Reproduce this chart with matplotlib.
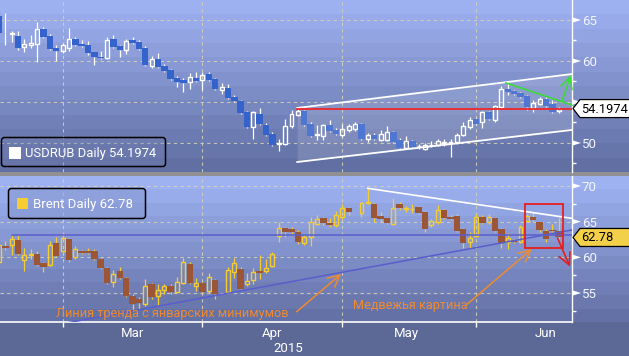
import numpy as np
import matplotlib
matplotlib.use("Agg")
import matplotlib.pyplot as plt
from matplotlib.patches import Rectangle, FancyBboxPatch, Polygon

plt.rcParams['font.family'] = ['Roboto', 'DejaVu Sans']

nan = np.nan
# ---------------- data (trading-day index, 0 = 17 Feb 2015) ----------------
day_index = list(range(-1, 88))

usd_open = [65.49, 63.45, 63.35, 63.05, 61.67, 61.95, 62.07, 63.90, 63.05, 61.59,
            61.22, 61.59, 62.68, 62.10, 61.95, 61.10, 60.49, 60.37, 62.68, 61.83,
            61.34, 62.56, 62.32, 61.59, 59.39, 60.24, 59.39, 58.90, 57.93, 57.68,
            57.44, 57.93, 57.68, 58.41, 57.80, 56.46, 56.70, 55.60, 55.12, 53.78,
            51.95, 53.54, 52.20, 51.10, 49.90, 49.88, 52.07, 53.41, 53.90, 52.32,
            50.95, 50.85, 52.20, 51.60, 50.98, 51.60, 51.70, 52.30, 50.49, 50.98,
            50.37, 50.37, 51.34, 50.37, 49.39, 50.24, 49.60, 49.27, 49.70, 49.76,
            50.05, 50.05, 50.12, 50.98, 51.95, 52.93, 52.56, 53.78, 52.80, 54.40,
            56.60, 56.34, 56.10, 55.73, 54.27, 54.76, 55.37, 54.76, 53.90]
usd_high = [65.80, 65.80, 63.60, 63.66, 62.68, 63.17, 64.80, 64.10, 63.30, 61.95,
            62.20, 64.00, 62.90, 62.50, 62.40, 61.15, 61.20, 62.90, 63.20, 61.90,
            62.68, 62.90, 62.50, 61.80, 60.60, 61.00, 59.60, 59.00, 58.20, 57.90,
            58.50, 58.60, 58.66, 58.66, 57.90, 57.30, 57.20, 55.80, 55.30, 53.90,
            53.90, 54.30, 52.40, 51.30, 50.50, 52.93, 54.00, 54.30, 54.00, 52.50,
            52.20, 52.32, 52.80, 51.80, 52.30, 52.30, 52.50, 52.40, 51.20, 51.20,
            51.60, 52.07, 51.50, 50.60, 50.80, 50.40, 49.90, 50.00, 50.30, 50.50,
            50.50, 50.50, 51.20, 52.60, 53.20, 53.10, 53.90, 53.90, 54.60, 56.90,
            57.30, 56.50, 56.20, 55.80, 55.30, 55.60, 55.60, 55.20, 54.40]
usd_low = [63.20, 61.95, 62.35, 61.34, 61.13, 61.54, 59.90, 62.80, 61.30, 60.00,
           60.98, 61.22, 61.80, 61.70, 60.70, 59.50, 60.30, 60.30, 61.60, 60.50,
           60.85, 62.10, 61.30, 59.40, 59.20, 59.10, 58.70, 57.70, 56.83, 56.20,
           56.60, 57.40, 56.50, 57.50, 56.50, 56.00, 55.40, 55.00, 53.50, 51.80,
           50.50, 52.20, 50.90, 49.60, 49.00, 49.80, 51.80, 53.30, 52.10, 50.70,
           50.40, 50.40, 51.30, 51.00, 50.70, 51.40, 51.50, 50.40, 50.10, 50.40,
           50.20, 50.30, 50.00, 49.30, 49.30, 49.40, 49.30, 49.10, 49.50, 49.60,
           49.60, 48.30, 49.90, 50.80, 51.70, 52.20, 51.80, 52.80, 52.60, 54.30,
           55.80, 55.90, 55.50, 54.00, 53.80, 54.60, 54.40, 53.70, 53.60]
usd_close = [63.41, 63.38, 63.40, 61.60, 62.07, 62.23, 63.90, 62.93, 61.46, 61.22,
             61.95, 62.68, 61.95, 61.83, 60.98, 60.49, 60.37, 62.56, 61.70, 61.34,
             62.44, 62.20, 61.46, 59.50, 60.24, 59.27, 58.78, 57.80, 57.44, 57.32,
             58.05, 57.56, 58.30, 57.68, 56.59, 56.83, 55.49, 55.12, 53.66, 51.95,
             53.78, 52.32, 50.98, 49.76, 50.00, 52.07, 53.54, 53.90, 52.20, 50.85,
             51.05, 52.20, 51.46, 51.10, 51.70, 52.07, 52.30, 50.49, 50.98, 50.49,
             51.10, 51.34, 50.12, 49.39, 50.24, 49.51, 49.67, 49.76, 49.80, 50.24,
             50.12, 50.10, 50.98, 52.07, 52.80, 52.32, 53.78, 52.93, 54.50, 56.60,
             56.20, 55.98, 55.60, 54.39, 54.88, 55.37, 54.50, 53.78, 54.1974]

brent_open = [59.30, 61.60, 61.72, 62.40, 59.60, 60.30, 60.46, 59.20, 58.92, 62.00,
              60.90, 62.56, 60.04, 60.88, 60.85, 60.88, 59.76, 58.50, 56.54, 58.10,
              57.10, 54.60, 54.20, 53.46, 56.26, 54.58, 55.42, 55.98, 55.14, 56.40,
              59.06, 55.98, 56.40, 55.28, 56.82, nan, 55.14, 57.94, 58.36, 56.26,
              56.82, 58.08, 58.08, 58.78, 62.98, 64.10, 64.00, 63.54, 62.00, 62.84,
              64.66, 65.50, 64.80, 64.52, 65.64, 66.90, nan, 66.20, 67.60, 67.46,
              65.80, 65.50, 64.66, 67.46, 66.80, 66.70, 67.04, 66.34, 64.50, 64.90,
              66.60, 65.60, 65.80, 63.96, 62.14, 63.00, 65.60, 64.90, 65.50, 63.96,
              62.14, 62.30, 62.14, 65.10, 65.64, 64.90, 63.70, 63.82, 63.70]
brent_high = [62.00, 62.30, 63.10, 63.10, 61.30, 61.10, 60.90, 59.40, 62.30, 62.90,
              63.40, 62.70, 61.60, 61.00, 61.30, 61.20, 59.90, 58.60, 58.20, 58.60,
              57.30, 54.80, 54.40, 57.00, 56.40, 56.26, 56.30, 56.30, 57.20, 59.90,
              59.30, 57.10, 56.60, 57.80, 57.00, nan, 58.60, 59.90, 58.60, 57.80,
              58.50, 60.30, 59.80, 60.80, 64.90, 64.30, 64.20, 63.80, 63.30, 65.70,
              65.90, 65.70, 65.50, 66.50, 67.50, 67.10, nan, 67.80, 69.70, 67.60,
              66.40, 65.70, 68.30, 67.70, 67.20, 67.50, 67.20, 66.50, 65.40, 67.30,
              66.80, 65.90, 66.00, 64.10, 63.50, 66.10, 65.90, 66.10, 65.70, 64.10,
              63.40, 62.50, 64.50, 66.10, 66.30, 65.00, 63.90, 64.60, 65.50]
brent_low = [58.60, 61.00, 60.30, 60.30, 58.10, 59.80, 58.80, 57.90, 58.80, 60.00,
             60.70, 59.40, 59.80, 60.50, 60.40, 59.60, 58.30, 56.20, 55.80, 56.90,
             54.40, 52.60, 52.80, 53.20, 54.20, 53.30, 54.80, 54.90, 55.00, 56.20,
             56.20, 55.30, 55.00, 55.00, 54.20, nan, 55.00, 57.10, 55.40, 56.00,
             56.30, 57.00, 57.80, 58.60, 62.20, 62.80, 63.30, 61.90, 61.70, 61.60,
             64.50, 64.50, 64.30, 64.30, 65.40, 65.90, nan, 65.60, 67.40, 64.90,
             65.00, 64.60, 64.50, 66.60, 66.40, 66.20, 66.00, 63.60, 64.30, 64.70,
             65.30, 65.20, 63.50, 61.30, 61.30, 62.90, 64.60, 64.70, 63.50, 61.30,
             61.20, 62.00, 62.00, 64.90, 65.00, 63.60, 62.20, 63.50, 62.50]
brent_close = [61.70, 61.35, 62.56, 60.46, 60.30, 60.45, 58.92, 58.64, 61.72, 60.18,
               62.70, 59.60, 61.16, 60.60, 60.55, 59.76, 58.50, 56.40, 57.66, 57.10,
               54.60, 53.46, 53.60, 55.98, 54.44, 55.42, 55.98, 55.14, 56.54, 59.34,
               56.40, 56.40, 55.14, 57.24, 54.86, nan, 58.20, 59.20, 55.56, 56.68,
               57.94, 57.80, 58.50, 60.46, 64.10, 63.54, 63.50, 62.10, 62.84, 64.94,
               65.36, 64.80, 64.52, 65.90, 66.90, 66.34, nan, 67.60, 67.80, 65.50,
               65.36, 64.80, 66.90, 66.90, 66.85, 66.80, 66.20, 63.96, 65.10, 66.60,
               65.50, 65.40, 63.70, 62.00, 62.70, 65.60, 64.80, 65.60, 63.70, 62.00,
               62.70, 62.14, 64.24, 65.80, 65.20, 63.80, 62.56, 63.68, 62.78]

usd_name, usd_last = "USDRUB Daily", "54.1974"
brent_name, brent_last = "Brent Daily", "62.78"
usd_yticks = [50, 55, 60, 65]
usd_ytick_labels = ["50", "", "60", "65"]   # 55 is hidden behind the price tag
usd_minor = [47.5, 52.5, 57.5, 62.5]
brent_yticks = [55, 60, 65, 70]
brent_ytick_labels = ["55", "60", "65", "70"]
brent_minor = [52.5, 57.5, 62.5, 67.5]
month_labels = ["Mar", "Apr", "May", "Jun"]
month_start = [9, 31, 53, 74]          # first trading day of each month
month_days = [22, 22, 20, 22]
year_label = "2015"

# drawn annotations (index, value)
chan_x = [45.9, 89.1]
chan_upper = [54.27, 58.41]
chan_lower = [47.68, 51.59]
red_level = 54.2
green_x = [78.7, 89.1]
green_y = [57.32, 54.63]
green_arrow = [(87.5, 55.04), (88.9, 58.29)]
blue_level = 63.12
trend_x = [10.0, 89.1]
trend_y = [50.86, 63.83]
resist_x = [57.0, 89.1]
resist_y = [69.66, 65.46]
box_x = [81.7, 87.7]
box_y = [61.26, 67.42]
red_arrow = [(86.85, 62.66), (88.79, 58.68)]
orange_arrow1 = [(45.8, 52.38), (52.8, 57.66)]
orange_arrow2 = [(72.6, 53.42), (82.77, 61.16)]
note1 = ("Линия тренда с январских минимумов", 26.2, 52.2)
note2 = ("Медвежья картина", 63.6, 53.3)

# ---------------- figure ----------------
W, H = 629, 356
fig = plt.figure(figsize=(W / 100, H / 100), dpi=100)
PR = 572          # right edge of plot area (px)
T1, B1 = 0, 172   # top panel
T2, B2 = 176, 322 # bottom panel

bg = fig.add_axes([0, 0, 1, 1], zorder=-10)
bg.set_xlim(0, W); bg.set_ylim(H, 0); bg.axis('off')


def bands(y0, y1, c0, c1, n):
    c0 = np.array(c0) / 255; c1 = np.array(c1) / 255
    h = (y1 - y0) / n
    for i in range(n):
        t = i / (n - 1)
        bg.add_patch(Rectangle((0, y0 + i * h), W, h + 0.6, color=c0 + (c1 - c0) * t, lw=0))


bands(T1, B1, (157, 176, 240), (97, 111, 163), 12)
bg.add_patch(Rectangle((0, B1), W, T2 - B1, color=(0.56, 0.56, 0.58), lw=0))
bands(T2, B2, (158, 178, 242), (100, 113, 166), 11)
bg.add_patch(Rectangle((0, B2), W, H - B2, color=(92 / 255, 105 / 255, 150 / 255), lw=0))

ax1 = fig.add_axes([0, 1 - B1 / H, PR / W, (B1 - T1) / H])
ax2 = fig.add_axes([0, 1 - B2 / H, PR / W, (B2 - T2) / H])
XLIM = (-0.833, 89.1)
ax1.set_xlim(*XLIM); ax2.set_xlim(*XLIM)
ax1.set_ylim(46.46, 67.44)
ax2.set_ylim(50.94, 71.39)

grid_c = '#D6D2B6'
for ax, yt, ylab, ymin in ((ax1, usd_yticks, usd_ytick_labels, usd_minor),
                           (ax2, brent_yticks, brent_ytick_labels, brent_minor)):
    ax.set_facecolor('none')
    for s in ('left', 'top', 'bottom'):
        ax.spines[s].set_visible(False)
    ax.spines['right'].set_color('white')
    ax.spines['right'].set_linewidth(1.0)
    ax.yaxis.tick_right()
    ax.set_yticks(yt, ylab)
    ax.set_yticks(ymin, minor=True)
    ax.tick_params(axis='y', which='major', length=0, pad=7, labelsize=9.5,
                   labelcolor='#F2F5FF')
    ax.tick_params(axis='y', which='minor', length=3, width=1, color='white')
    for v in yt:
        ax.axhline(v, color=grid_c, lw=0.8, ls=(0, (3, 3)), alpha=0.85, zorder=1)
    for m in month_start:
        ax.axvline(m, color=grid_c, lw=0.8, ls=(0, (3, 3)), alpha=0.85, zorder=1)

ax1.set_xticks([])
ax2.spines['bottom'].set_visible(True)
ax2.spines['bottom'].set_color('white')
ax2.spines['bottom'].set_linewidth(1.2)
ax2.set_xticks(month_start)
ax2.set_xticklabels([])
ax2.tick_params(axis='x', which='major', length=3.5, width=1, color='white')
for lab, s, n in zip(month_labels, month_start, month_days):
    ax2.text(s + n / 2, -0.076, lab, transform=ax2.get_xaxis_transform(),
             ha='center', va='center', color='white', fontsize=9.5)
ax2.text(month_start[1] + month_days[1] / 2 + 0.1, -0.182, year_label,
         transform=ax2.get_xaxis_transform(), ha='left', va='center',
         color='white', fontsize=9.5)


def candles(ax, o, h, l, c, up_col, down_col, wick_col):
    x = np.array(day_index, float)
    o, h, l, c = (np.array(a, float) for a in (o, h, l, c))
    ok = ~np.isnan(o)
    x, o, h, l, c = x[ok], o[ok], h[ok], l[ok], c[ok]
    top = np.maximum(o, c); bot = np.minimum(o, c)
    ax.vlines(x, top, h, color=wick_col, lw=0.9, zorder=3)
    ax.vlines(x, l, bot, color=wick_col, lw=0.9, zorder=3)
    up = c >= o
    ax.bar(x[up], np.maximum(top[up] - bot[up], 0.03), bottom=bot[up], width=0.62,
           facecolor='none', edgecolor=up_col, lw=1.0, zorder=3)
    ax.bar(x[~up], top[~up] - bot[~up], bottom=bot[~up], width=1.02,
           color=down_col, lw=0, zorder=3)


candles(ax1, usd_open, usd_high, usd_low, usd_close, 'white', '#3563CC', 'white')
candles(ax2, brent_open, brent_high, brent_low, brent_close, '#F5CD32', '#9B5537', '#F5CD32')

# top panel annotations
ax1.fill_between(chan_x, chan_lower, chan_upper, color='white', alpha=0.13, lw=0, zorder=4)
ax1.plot(chan_x, chan_upper, color='white', lw=1.3, zorder=5)
ax1.plot(chan_x, chan_lower, color='white', lw=1.3, zorder=5)
ax1.plot(chan_x, [red_level, red_level], color='#F02828', lw=1.3, zorder=5)
ax1.plot(green_x, green_y, color='#3ADC3A', lw=1.2, zorder=6, clip_on=False)
ax1.annotate('', xy=green_arrow[1], xytext=green_arrow[0], zorder=6, annotation_clip=False,
             arrowprops=dict(arrowstyle='->,head_length=0.7,head_width=0.35', color='#3ADC3A',
                             lw=1.2, shrinkA=0, shrinkB=0, mutation_scale=12))

# bottom panel annotations
ax2.plot([day_index[2], XLIM[1]], [blue_level, blue_level], color='#5A5ECC', lw=1.1, zorder=4)
ax2.plot(trend_x, trend_y, color='#5A5ECC', lw=1.1, zorder=4)
ax2.plot(resist_x, resist_y, color='white', lw=1.2, zorder=5)
ax2.add_patch(Rectangle((box_x[0], box_y[0]), box_x[1] - box_x[0], box_y[1] - box_y[0],
                        fill=False, ec='#E81E1E', lw=1.3, zorder=6))
ax2.annotate('', xy=red_arrow[1], xytext=red_arrow[0], zorder=6, annotation_clip=False,
             arrowprops=dict(arrowstyle='->,head_length=0.7,head_width=0.35', color='#E81E1E',
                             lw=1.2, shrinkA=0, shrinkB=0, mutation_scale=12))
for a in (orange_arrow1, orange_arrow2):
    ax2.annotate('', xy=a[1], xytext=a[0], zorder=6,
                 arrowprops=dict(arrowstyle='->,head_length=0.7,head_width=0.35', color='#EE8A30',
                                 lw=1.1, shrinkA=0, shrinkB=0, mutation_scale=12))
for txt, xk, yv in (note1, note2):
    ax2.text(xk, yv, txt, color='#EE8A30', fontsize=9.1, ha='center', va='center', zorder=6)

# overlay in pixel coordinates
ov = fig.add_axes([0, 0, 1, 1], zorder=20)
ov.set_xlim(0, W); ov.set_ylim(H, 0); ov.axis('off'); ov.set_facecolor('none')


def ypx(ax, v):
    return H - ax.transData.transform((0, v))[1]


for ax, yt in ((ax1, usd_yticks), (ax2, brent_yticks)):
    for v in yt:
        y = ypx(ax, v)
        ov.add_patch(Polygon([(PR, y - 2.8), (PR, y + 2.8), (PR + 9, y)], closed=True,
                             fc='white', ec='none'))


def tag(ax, value, text, face):
    yc = ypx(ax, value)
    pts = [(PR + 1, yc), (PR + 8, yc - 9), (W + 2, yc - 9), (W + 2, yc + 9), (PR + 8, yc + 9)]
    ov.add_patch(Polygon(pts, closed=True, fc=face, ec='black', lw=0.9))
    ov.text(PR + 9.5, yc + 0.5, text, color='black', fontsize=9.3, ha='left', va='center')


tag(ax1, usd_close[-1], usd_last, 'white')
tag(ax2, brent_close[-1], brent_last, '#F3D04A')

# legend boxes
ov.add_patch(FancyBboxPatch((1.5, 137.5), 164, 29, boxstyle='round,pad=0,rounding_size=3',
                            fc=(0.45, 0.50, 0.70, 0.35), ec='black', lw=1.1))
ov.add_patch(Rectangle((9, 146.5), 12, 12, color='white', lw=0))
ov.text(25, 153, f"{usd_name} {usd_last}", color='white', fontsize=9.4, va='center', ha='left')

ov.add_patch(FancyBboxPatch((8.5, 188.5), 137, 30, boxstyle='round,pad=0,rounding_size=3',
                            fc=(0.50, 0.56, 0.78, 0.35), ec='black', lw=1.1))
ov.add_patch(Rectangle((17, 198), 11, 11, color='#F5CD32', lw=0))
ov.text(33, 204.5, f"{brent_name} {brent_last}", color='white', fontsize=9.5, va='center', ha='left')

fig.savefig('out.png', dpi=100)
